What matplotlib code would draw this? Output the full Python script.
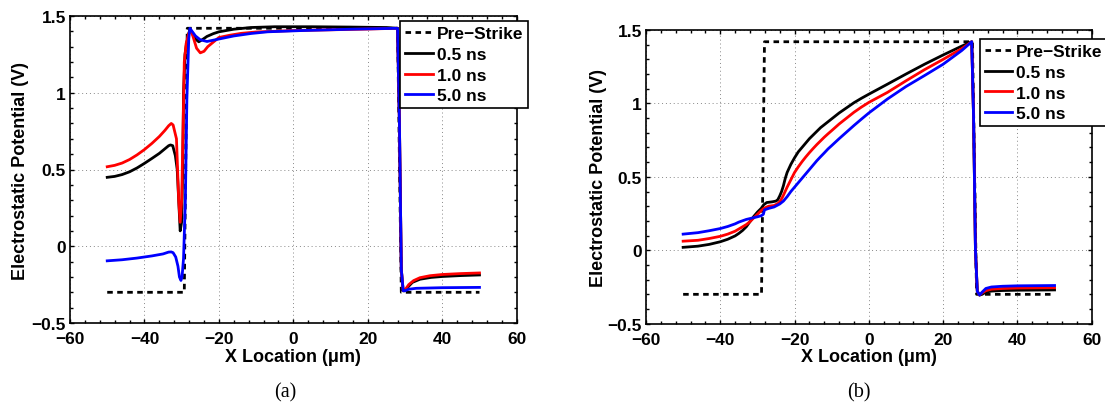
import matplotlib
matplotlib.use("Agg")
import matplotlib.pyplot as plt
from matplotlib.ticker import MultipleLocator, FuncFormatter

plt.rcParams['font.family'] = ['Liberation Sans', 'DejaVu Sans']
plt.rcParams['font.weight'] = 'bold'

# ---------------- Panel (a) data ----------------
xa_pre = [-50, -29.3, -28.5, 28.0, 29.0, 50]
ya_pre = [-0.30, -0.30, 1.42, 1.42, -0.30, -0.30]

xa_05 = [-50, -48, -46, -44, -42, -40, -38, -36, -34.5, -33.5, -33.0, -32.4, -31.7, -31.2,
         -30.8, -30.4, -30.0, -29.7, -29.5, -29.1, -28.7, -28.2, -27.8, -27.2, -26.3, -25.4,
         -24.5, -23.2, -21.5, -20, -16, -11.4, -5, 5, 15, 25, 28.0, 28.5, 29.0, 29.5, 30.0,
         31, 32, 34, 37, 40, 45, 50]
ya_05 = [0.449, 0.455, 0.467, 0.485, 0.51, 0.54, 0.572, 0.605, 0.635, 0.655, 0.66, 0.655, 0.59, 0.50,
         0.30, 0.10, 0.16, 0.55, 1.0, 1.25, 1.32, 1.38, 1.41, 1.39, 1.35, 1.332,
         1.345, 1.367, 1.385, 1.397, 1.414, 1.425, 1.43, 1.43, 1.428, 1.425, 1.42, 0.80, -0.15, -0.29, -0.29,
         -0.26, -0.235, -0.215, -0.203, -0.197, -0.191, -0.187]

xa_10 = [-50, -48, -46, -44, -42, -40, -38, -36, -34.5, -33.5, -32.8, -32.3, -31.8, -31.4,
         -30.8, -30.4, -30.0, -29.6, -29.3, -28.8, -28.2, -27.6, -27.0, -26.0, -25.0, -24.0,
         -23.0, -21.5, -20, -17, -14, -10, 0, 10, 20, 28.0, 28.5, 29.0, 29.5, 30.0,
         31, 32.3, 34, 36.7, 40, 45, 50]
ya_10 = [0.518, 0.527, 0.542, 0.565, 0.595, 0.63, 0.67, 0.715, 0.755, 0.785, 0.80, 0.79, 0.74, 0.70,
         0.30, 0.156, 0.30, 0.80, 1.20, 1.32, 1.38, 1.41, 1.37, 1.29, 1.26, 1.27,
         1.30, 1.33, 1.36, 1.375, 1.387, 1.396, 1.405, 1.41, 1.415, 1.42, 0.80, -0.15, -0.29, -0.285,
         -0.25, -0.224, -0.205, -0.192, -0.184, -0.178, -0.174]

xa_50 = [-50, -46, -42, -38, -35, -33.5, -32.8, -32.3, -31.6, -31.0, -30.6, -30.2, -29.9, -29.5,
         -29.0, -28.6, -28.1, -27.8, -27.2, -26.3, -25.0, -23.2, -20, -16, -11.4, -6.9,
         2.1, 15.6, 28.0, 28.5, 29.0, 29.5, 30.0, 31, 33, 40, 50]
ya_50 = [-0.095, -0.088, -0.077, -0.063, -0.05, -0.038, -0.037, -0.042, -0.07, -0.13, -0.20, -0.223, -0.20, -0.08,
         0.31, 0.96, 1.35, 1.42, 1.40, 1.37, 1.345, 1.334, 1.35, 1.37, 1.386, 1.397,
         1.405, 1.414, 1.42, 0.80, -0.15, -0.29, -0.29, -0.28, -0.274, -0.27, -0.268]

# ---------------- Panel (b) data ----------------
xb_pre = [-50, -28.9, -28.1, 27.9, 29.0, 50]
yb_pre = [-0.30, -0.30, 1.42, 1.42, -0.30, -0.30]

xb_05 = [-50, -46, -43, -40, -38, -36, -35, -34, -33, -32, -31, -30, -29, -28.3, -27.5, -26,
         -25, -24.5, -24, -23.5, -23, -22.5, -22, -21, -20, -19, -18, -17, -16, -15, -14, -13,
         -12, -11, -10, -8, -6, -4, -2, 0, 5, 10, 15, 20, 25, 27.7, 28.2, 28.7,
         29.2, 29.8, 30.5, 31.5, 33, 36, 40, 50]
yb_05 = [0.02, 0.028, 0.04, 0.058, 0.075, 0.098, 0.115, 0.135, 0.16, 0.195, 0.23, 0.26, 0.285, 0.31, 0.325, 0.33,
         0.335, 0.345, 0.37, 0.40, 0.44, 0.49, 0.53, 0.585, 0.63, 0.67, 0.70, 0.73, 0.76, 0.785, 0.81, 0.835,
         0.855, 0.875, 0.895, 0.935, 0.97, 1.005, 1.035, 1.063, 1.131, 1.20, 1.267, 1.33, 1.39, 1.42, 0.90, 0.0,
         -0.28, -0.305, -0.30, -0.285, -0.278, -0.274, -0.272, -0.27]

xb_10 = [-50, -46, -43, -40, -38, -36, -35, -33, -32, -31, -30, -29, -28.3, -27, -25.5, -24.5,
         -24, -23.5, -23, -22, -21, -20, -19, -18, -17, -16, -15, -14, -13, -12, -11, -10,
         -8, -6, -4, -2, 0, 5, 10, 15, 20, 25, 27.7, 28.2, 28.7,
         29.2, 29.8, 30.5, 31.5, 33, 36, 40, 50]
yb_10 = [0.062, 0.068, 0.08, 0.095, 0.11, 0.13, 0.145, 0.175, 0.195, 0.22, 0.245, 0.27, 0.285, 0.30, 0.305, 0.318,
         0.33, 0.35, 0.375, 0.43, 0.48, 0.53, 0.568, 0.603, 0.635, 0.665, 0.693, 0.72, 0.745, 0.77, 0.793, 0.815,
         0.86, 0.90, 0.94, 0.975, 1.007, 1.075, 1.154, 1.23, 1.30, 1.373, 1.42, 0.90, 0.0,
         -0.28, -0.305, -0.29, -0.275, -0.265, -0.26, -0.257, -0.255]

xb_50 = [-50, -46, -43, -40, -38, -36, -35, -33, -32, -31, -30, -29, -28.4, -28.1, -27, -25.5,
         -24, -23, -22, -21, -20, -19, -18, -17, -16, -15, -14, -13, -12, -11, -10,
         -8, -6, -4, -2, 0, 5, 10, 15, 20, 25, 27.7, 28.2, 28.7,
         29.2, 29.8, 30.5, 31.5, 33, 36, 40, 50]
yb_50 = [0.11, 0.12, 0.133, 0.148, 0.162, 0.18, 0.192, 0.21, 0.216, 0.222, 0.228, 0.235, 0.245, 0.275, 0.285, 0.295,
         0.315, 0.335, 0.365, 0.40, 0.43, 0.46, 0.49, 0.52, 0.55, 0.58, 0.61, 0.637, 0.663, 0.69, 0.713,
         0.76, 0.805, 0.85, 0.893, 0.935, 1.03, 1.115, 1.19, 1.267, 1.36, 1.42, 0.90, 0.0,
         -0.28, -0.305, -0.285, -0.26, -0.25, -0.245, -0.242, -0.24]

labels = ['Pre\u2212Strike', '0.5 ns', '1.0 ns', '5.0 ns']
x_ticks = [-60, -40, -20, 0, 20, 40, 60]
y_ticks = [-0.5, 0, 0.5, 1, 1.5]

fig = plt.figure(figsize=(11.05, 4.06), dpi=100)
axA = fig.add_axes([70 / 1105, 1 - 324 / 406, 446.7 / 1105, 307 / 406])
axB = fig.add_axes([646 / 1105, 1 - 324.7 / 406, 445.7 / 1105, 293.7 / 406])


def fmt(v, p):
    s = '%g' % v
    return s.replace('-', '\u2212')


def style(ax, data, leg_anchor, ylabpad):
    (xp, yp), (x1, y1), (x2, y2), (x3, y3) = data
    ax.plot(xp, yp, color='black', lw=2.0, linestyle=(0, (2.0, 1.6)), label=labels[0], zorder=3)
    ax.plot(x1, y1, color='black', lw=2.0, label=labels[1], zorder=4)
    ax.plot(x2, y2, color='red', lw=2.0, label=labels[2], zorder=5)
    ax.plot(x3, y3, color='blue', lw=2.0, label=labels[3], zorder=6)
    ax.set_xlim(-60, 60)
    ax.set_ylim(-0.5, 1.5)
    ax.set_xticks(x_ticks)
    ax.set_yticks(y_ticks)
    ax.xaxis.set_minor_locator(MultipleLocator(4))
    ax.yaxis.set_minor_locator(MultipleLocator(0.1))
    ax.xaxis.set_major_formatter(FuncFormatter(fmt))
    ax.yaxis.set_major_formatter(FuncFormatter(fmt))
    ax.tick_params(which='both', direction='in', top=True, right=True, width=1.0)
    ax.tick_params(which='major', length=3, labelsize=12.5)
    ax.tick_params(which='minor', length=2)
    ax.tick_params(axis='x', which='major', pad=6)
    ax.tick_params(axis='y', which='major', pad=3)
    for lab in ax.get_xticklabels() + ax.get_yticklabels():
        lab.set_fontweight('bold')
    for sp in ax.spines.values():
        sp.set_linewidth(1.2)
    ax.grid(True, which='major', linestyle=(0, (1, 3)), color='#888888', linewidth=0.7)
    ax.set_axisbelow(True)
    ax.set_xlabel('X Location (\u03bcm)', fontsize=13, fontweight='bold', labelpad=1)
    ax.set_ylabel('Electrostatic Potential (V)', fontsize=13, fontweight='bold', labelpad=ylabpad)
    leg = ax.legend(loc='upper left', bbox_to_anchor=leg_anchor, borderaxespad=0,
                    fancybox=False, framealpha=1, edgecolor='black',
                    prop={'weight': 'bold', 'size': 12.5}, handlelength=1.6,
                    handletextpad=0.22, borderpad=0.28, labelspacing=0.32)
    leg.get_frame().set_linewidth(1.2)
    leg.set_zorder(10)


style(axA, [(xa_pre, ya_pre), (xa_05, ya_05), (xa_10, ya_10), (xa_50, ya_50)],
      (0.739, 0.983), 2)
style(axB, [(xb_pre, yb_pre), (xb_05, yb_05), (xb_10, yb_10), (xb_50, yb_50)],
      (0.749, 0.969), 0.5)

fig.text(285 / 1105, 1 - 393 / 406, '(a)', ha='center', va='center',
         family='Liberation Serif', fontweight='normal', fontsize=14.5)
fig.text(859 / 1105, 1 - 393 / 406, '(b)', ha='center', va='center',
         family='Liberation Serif', fontweight='normal', fontsize=14.5)

fig.savefig('out.png', dpi=100)
